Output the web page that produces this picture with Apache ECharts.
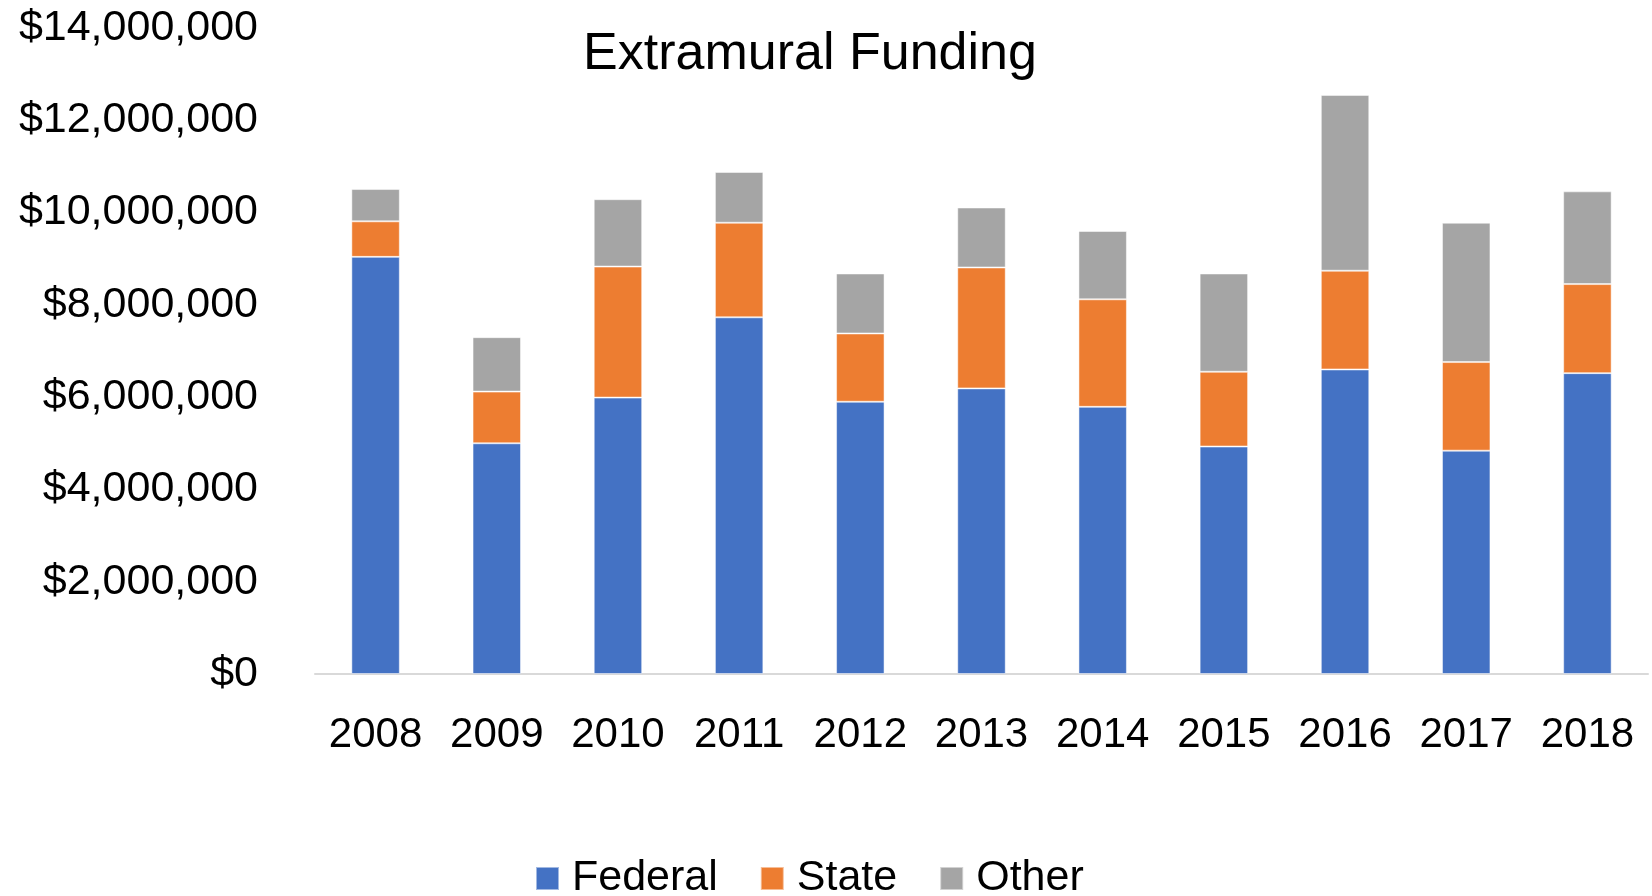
<!DOCTYPE html>
<html>
<head>
<meta charset="utf-8">
<script src="https://cdn.jsdelivr.net/npm/echarts@6/dist/echarts.min.js"></script>
<style>
html,body{margin:0;padding:0;background:#fff;}
#chart{width:1652px;height:896px;}
</style>
</head>
<body>
<div id="chart"></div>
<script>
const categories = ['2008','2009','2010','2011','2012','2013','2014','2015','2016','2017','2018'];
const federal = [9040000, 5000000, 5990000, 7730000, 5900000, 6190000, 5790000, 4930000, 6600000, 4840000, 6520000];
const state   = [ 770000, 1120000, 2840000, 2050000, 1480000, 2620000, 2330000, 1620000, 2140000, 1920000, 1930000];
const other   = [ 700000, 1180000, 1460000, 1100000, 1300000, 1300000, 1480000, 2130000, 3810000, 3020000, 2010000];
const seriesNames = ['Federal','State','Other'];
const yMin = 0, yMax = 14000000, yStep = 2000000;

const FONT = '"Liberation Sans", Arial, sans-serif';
const chart = echarts.init(document.getElementById('chart'), null, {renderer:'canvas'});
const colors = ['#4472C4','#ED7D31','#A5A5A5'];
const values = [federal, state, other];

chart.setOption({
  animation: false,
  color: colors,
  title: {
    text: 'Extramural Funding',
    left: 805, top: 24, textAlign: 'center',
    textStyle: {fontFamily: FONT, fontSize: 52, fontWeight: 'normal', color: '#000'}
  },
  legend: {
    data: seriesNames,
    left: 530, top: 852,
    itemWidth: 23, itemHeight: 23, itemGap: 42,
    icon: 'rect',
    textStyle: {fontFamily: FONT, fontSize: 43, color: '#000', padding: [0,0,0,8]}
  },
  grid: {left: 315, right: 4, top: 28, bottom: 222, containLabel: false},
  xAxis: {
    type: 'category', data: categories,
    axisLine: {show: true, lineStyle: {color: '#D9D9D9', width: 2}},
    axisTick: {show: false},
    axisLabel: {fontFamily: FONT, fontSize: 42, color: '#000', margin: 40, interval: 0}
  },
  yAxis: {
    type: 'value', min: yMin, max: yMax, interval: yStep,
    axisLine: {show: false}, axisTick: {show: false},
    splitLine: {show: false},
    axisLabel: {
      fontFamily: FONT, fontSize: 43, color: '#000', margin: 57,
      formatter: v => '$' + v.toLocaleString('en-US')
    }
  },
  series: seriesNames.map((n, i) => ({
    name: n, type: 'bar', stack: 'total', data: values[i],
    barWidth: '40%',
    itemStyle: {color: colors[i], borderColor: 'rgba(255,255,255,0.5)', borderWidth: 1}
  }))
});
</script>
</body>
</html>
